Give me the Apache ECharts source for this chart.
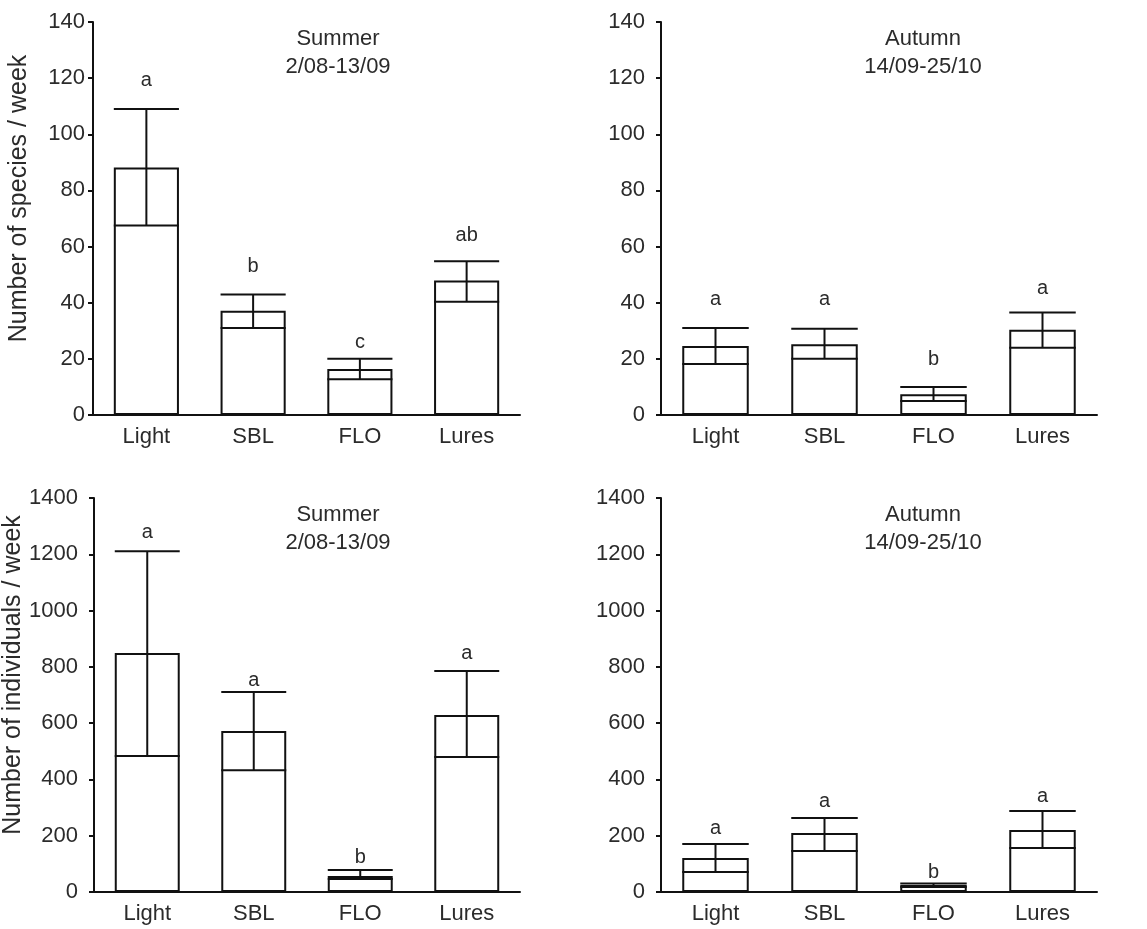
<!DOCTYPE html>
<html>
<head>
<meta charset="utf-8">
<script src="https://cdn.jsdelivr.net/npm/echarts@6/dist/echarts.min.js"></script>
<style>
  html, body { margin: 0; padding: 0; background: #fff; }
  #main { width: 1147px; height: 929px; }
</style>
</head>
<body>
<div id="main"></div>
<script>
// categories
var categories = ['Light', 'SBL', 'FLO', 'Lures'];

// species / week, summer
var spSummerMean = [88.2, 37.1, 16.4, 47.9];
var spSummerLow = [67.5, 31, 12.7, 40.3];
var spSummerHigh = [109, 42.9, 20, 54.8];
var spSummerLetters = ['a', 'b', 'c', 'ab'];
var spSummerLetterY = [119, 53, 26, 64];

// species / week, autumn
var spAutumnMean = [24.6, 25.2, 7.4, 30.4];
var spAutumnLow = [18.2, 20, 5, 24];
var spAutumnHigh = [31, 30.7, 10, 36.5];
var spAutumnLetters = ['a', 'a', 'b', 'a'];
var spAutumnLetterY = [41, 41, 19.6, 45];

// individuals / week, summer
var indSummerMean = [849, 572, 57, 629];
var indSummerLow = [483, 433, 46, 480];
var indSummerHigh = [1211, 711, 78, 785];
var indSummerLetters = ['a', 'a', 'b', 'a'];
var indSummerLetterY = [1279, 753, 124, 849];

// individuals / week, autumn
var indAutumnMean = [121, 210, 25, 220];
var indAutumnLow = [71, 146, 18, 156];
var indAutumnHigh = [171, 263, 30, 288];
var indAutumnLetters = ['a', 'a', 'b', 'a'];
var indAutumnLetterY = [224, 320, 71, 338];

var textColor = '#2b2b2b';
var font = 'Liberation Sans, Arial, sans-serif';
var barFrac = 0.61;

var panels = [
  {left: 93, top: 22, width: 427, height: 393, max: 140, interval: 20, labelGap: 8, nameGap: 61,
   name: 'Number of species / week', title: 'Summer\n2/08-13/09', titleX: 333,
   mean: spSummerMean, low: spSummerLow, high: spSummerHigh, letters: spSummerLetters, letterY: spSummerLetterY},
  {left: 661, top: 22, width: 436, height: 393, max: 140, interval: 20, labelGap: 16, nameGap: 61,
   name: '', title: 'Autumn\n14/09-25/10', titleX: 918, ticks: true,
   mean: spAutumnMean, low: spAutumnLow, high: spAutumnHigh, letters: spAutumnLetters, letterY: spAutumnLetterY},
  {left: 94, top: 498, width: 426, height: 394, max: 1400, interval: 200, labelGap: 16, nameGap: 68,
   name: 'Number of individuals / week', title: 'Summer\n2/08-13/09', titleX: 333,
   mean: indSummerMean, low: indSummerLow, high: indSummerHigh, letters: indSummerLetters, letterY: indSummerLetterY},
  {left: 661, top: 498, width: 436, height: 394, max: 1400, interval: 200, labelGap: 16, nameGap: 61,
   name: '', title: 'Autumn\n14/09-25/10', titleX: 918,
   mean: indAutumnMean, low: indAutumnLow, high: indAutumnHigh, letters: indAutumnLetters, letterY: indAutumnLetterY}
];

function errorRender(params, api) {
  var lo = api.coord([api.value(0), api.value(1)]);
  var hi = api.coord([api.value(0), api.value(2)]);
  var w = api.size([1, 0])[0] * barFrac;
  var st = {stroke: '#111', lineWidth: 2};
  return {
    type: 'group',
    children: [
      {type: 'line', shape: {x1: lo[0] - w / 2, y1: lo[1], x2: lo[0] + w / 2, y2: lo[1]}, style: st},
      {type: 'line', shape: {x1: lo[0], y1: lo[1], x2: hi[0], y2: hi[1]}, style: st},
      {type: 'line', shape: {x1: hi[0] - w / 2, y1: hi[1], x2: hi[0] + w / 2, y2: hi[1]}, style: st}
    ]
  };
}

var grid = [], xAxis = [], yAxis = [], series = [], title = [];

panels.forEach(function (p, k) {
  grid.push({left: p.left, top: p.top, width: p.width, height: p.height});
  xAxis.push({
    type: 'category', gridIndex: k, data: categories,
    axisLine: {lineStyle: {color: '#111', width: 2}},
    axisTick: {show: !!p.ticks, inside: true, alignWithLabel: true, length: 4, lineStyle: {color: '#111', width: 2}},
    axisLabel: {color: textColor, fontSize: 22, fontFamily: font, margin: 11}
  });
  yAxis.push({
    type: 'value', gridIndex: k, min: 0, max: p.max, interval: p.interval,
    name: p.name, nameLocation: 'middle', nameGap: p.nameGap, nameMoveOverlap: false,
    nameTextStyle: {color: textColor, fontSize: 25, fontFamily: font, padding: [0, 0, 0, 40]},
    axisLine: {show: true, lineStyle: {color: '#111', width: 2}},
    axisTick: {show: true, length: 5, lineStyle: {color: '#111', width: 2}},
    axisLabel: {color: textColor, fontSize: 22, fontFamily: font, margin: p.labelGap,
      formatter: function (v) { return String(v); }},
    splitLine: {show: false}
  });
  title.push({
    text: p.title, left: p.titleX, top: p.top - 2, textAlign: 'center',
    textStyle: {color: textColor, fontSize: 22, fontWeight: 'normal', fontFamily: font, lineHeight: 28}
  });
  series.push({
    type: 'bar', xAxisIndex: k, yAxisIndex: k, data: p.mean,
    barWidth: (barFrac * 100) + '%',
    itemStyle: {color: '#fff', borderColor: '#111', borderWidth: 2}
  });
  series.push({
    type: 'custom', xAxisIndex: k, yAxisIndex: k,
    renderItem: errorRender,
    encode: {x: 0, y: [1, 2]},
    data: categories.map(function (c, i) { return [i, p.low[i], p.high[i]]; }),
    z: 5
  });
  series.push({
    type: 'custom', xAxisIndex: k, yAxisIndex: k,
    renderItem: function (params, api) {
      var pt = api.coord([api.value(0), api.value(1)]);
      return {
        type: 'text', x: pt[0], y: pt[1],
        style: {text: p.letters[params.dataIndex], fill: textColor, font: '20px ' + font, align: 'center', verticalAlign: 'middle'}
      };
    },
    encode: {x: 0, y: 1},
    data: categories.map(function (c, i) { return [i, p.letterY[i]]; }),
    z: 6
  });
});

var chart = echarts.init(document.getElementById('main'));
chart.setOption({
  animation: false,
  backgroundColor: '#fff',
  title: title,
  grid: grid,
  xAxis: xAxis,
  yAxis: yAxis,
  series: series
});
</script>
</body>
</html>
